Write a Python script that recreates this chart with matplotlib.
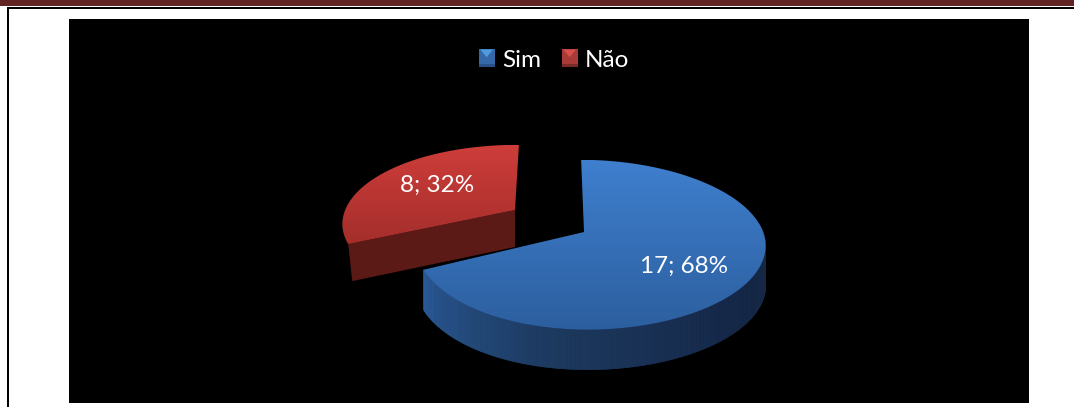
import numpy as np
import matplotlib
matplotlib.use('Agg')
import matplotlib.pyplot as plt
from matplotlib.patches import Polygon, Rectangle
from matplotlib.collections import PolyCollection
from matplotlib.colors import LinearSegmentedColormap
from matplotlib.legend_handler import HandlerBase

labels = ['Sim', 'Não']
values = [17, 8]
percents = [68, 32]

plt.rcParams['font.family'] = ['Lato', 'DejaVu Sans']

W, H = 1074, 407
fig = plt.figure(figsize=(W / 100, H / 100), dpi=100, facecolor='white')
ax = fig.add_axes([0, 0, 1, 1])
ax.set_xlim(0, W)
ax.set_ylim(H, 0)
ax.axis('off')

# page frame and black chart area
ax.add_patch(Rectangle((0, 0), W, 6, fc='#622423', ec='none'))
ax.add_patch(Rectangle((7, 7), W - 7, 2, fc='black', ec='none'))
ax.add_patch(Rectangle((7, 7), 2, H, fc='black', ec='none'))
ax.add_patch(Rectangle((69, 19), 960, 384, fc='black', ec='none'))

PERSP = 0.15
SKEW = 0.035


def project(t, s):
    x = np.sin(t)
    y = np.cos(t)
    w = 1 + PERSP * y
    sy = -s['b'] * y / w
    sx = s['a'] * x * (1 + SKEW * x) / w + s['shear'] * sy
    return s['cx'] + sx, s['cy'] + sy


def gradient_fill(poly, c_top, c_bot, y0, y1):
    cmap = LinearSegmentedColormap.from_list('g', [c_top, c_bot])
    grad = np.linspace(0, 1, 256).reshape(-1, 1)
    im = ax.imshow(grad, cmap=cmap, extent=(60, 1040, y1, y0), aspect='auto', zorder=poly.get_zorder())
    ax.add_patch(poly)
    im.set_clip_path(poly)


class BevelHandler(HandlerBase):
    # square legend key with lighter top notch and darker bottom edge
    def create_artists(self, legend, orig, xd, yd, width, height, fontsize, trans):
        base, light, dark = orig.colors
        x0, y0 = -xd, -yd
        body = Rectangle((x0, y0), width, height, fc=base, ec='none', transform=trans)
        notch = Polygon([(x0 + 0.1 * width, y0 + height), (x0 + 0.9 * width, y0 + height),
                         (x0 + 0.5 * width, y0 + 0.55 * height)], fc=light, ec='none', transform=trans)
        low = Rectangle((x0, y0), width, 0.18 * height, fc=dark, ec='none', transform=trans)
        return [body, low, notch]


total = sum(values)
ang_blue = 2 * np.pi * values[0] / total

red = dict(cx=515, cy=210, a=176, b=75, shear=-0.06)
blue = dict(cx=584, cy=232, a=173, b=83, shear=0.04)
depth_red = 37
depth_blue = 40

# red slice (exploded) first, blue overlaps it
t = np.linspace(ang_blue, 2 * np.pi, 120)
rx, ry = project(t, red)
wall = np.array([[red['cx'], red['cy']], [rx[0], ry[0]],
                 [rx[0] + 4, ry[0] + depth_red], [red['cx'], red['cy'] + depth_red]])
ax.add_patch(Polygon(wall, fc='#5c1a16', ec='none', zorder=2))
top = np.column_stack([np.r_[red['cx'], rx], np.r_[red['cy'], ry]])
gradient_fill(Polygon(top, fc='none', ec='none', zorder=3), '#ce3d3a', '#a32e2b', 145, 246)

# blue slice: outer wall then top face
t = np.linspace(np.radians(84), ang_blue, 200)
bx, by = project(t, blue)
quads = [[(bx[i], by[i]), (bx[i + 1], by[i + 1]),
          (bx[i + 1], by[i + 1] + depth_blue), (bx[i], by[i] + depth_blue)] for i in range(len(t) - 1)]
wall_cmap = LinearSegmentedColormap.from_list('w', ['#14263f', '#16294a', '#1d3a60', '#2a5a96'])
shade = np.linspace(0, 1, len(quads))
cols = wall_cmap(shade)
ax.add_collection(PolyCollection(quads, facecolors=cols, edgecolors=cols, linewidths=0.5, zorder=4))

t = np.linspace(0, ang_blue, 300)
bx, by = project(t, blue)
top = np.column_stack([np.r_[blue['cx'], bx], np.r_[blue['cy'], by]])
gradient_fill(Polygon(top, fc='none', ec='none', zorder=5), '#3f7fce', '#2c5f9f', 160, 330)

# data labels
ax.text(684, 266, f'{values[0]}; {percents[0]}%', color='white', fontsize=17.5, ha='center', va='center', zorder=6)
ax.text(437, 185, f'{values[1]}; {percents[1]}%', color='white', fontsize=17.5, ha='center', va='center', zorder=6)


class Key:
    def __init__(self, *colors):
        self.colors = colors


handles = [Key('#3468a8', '#4f9be0', '#2a5288'), Key('#a83a37', '#d8504c', '#7c2a28')]
ax.legend(handles, labels, loc='center', bbox_to_anchor=(554 / W, 1 - 60 / H), bbox_transform=fig.transFigure,
          ncol=2, frameon=False, fontsize=17.5, labelcolor='white', handlelength=0.66, handleheight=0.72,
          handletextpad=0.3, columnspacing=0.85, handler_map={Key: BevelHandler()})

fig.savefig('out.png', dpi=100, facecolor='white')
